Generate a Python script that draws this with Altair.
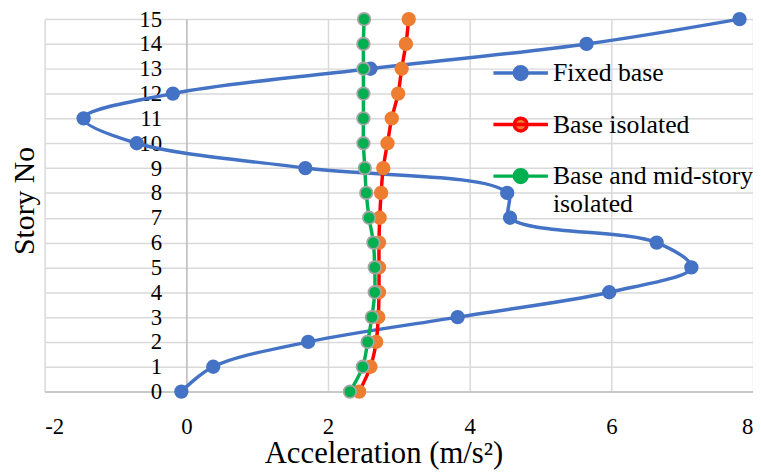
import altair as alt
import pandas as pd

stories = list(range(16))
fixed_base = [-0.07, 0.38, 1.72, 3.83, 5.97, 7.13, 6.64, 4.57, 4.53, 1.68,
              -0.70, -1.45, -0.19, 2.60, 5.65, 7.81]
base_isolated = [2.44, 2.60, 2.68, 2.71, 2.72, 2.72, 2.72, 2.73, 2.75, 2.78,
                 2.84, 2.90, 2.99, 3.04, 3.10, 3.14]
mid_isolated = [2.31, 2.49, 2.56, 2.62, 2.66, 2.66, 2.64, 2.58, 2.54, 2.52,
                2.50, 2.50, 2.50, 2.50, 2.50, 2.51]

series_names = ["Fixed base", "Base isolated", "Base and mid-story isolated"]
line_colors = ["#4472C4", "#FF0000", "#00B050"]
point_colors = ["#4472C4", "#ED7D31", "#00B050"]
x_ticks = [-2, 0, 2, 4, 6, 8]

rows = []
for name, vals in zip(series_names, [fixed_base, base_isolated, mid_isolated]):
    for s, v in zip(stories, vals):
        rows.append({"series": name, "story": s, "acc": v})
df = pd.DataFrame(rows)

FONT = "'Liberation Serif', 'Times New Roman', Tinos, 'DejaVu Serif', serif"
sym_path = ("M-2,0H2M-0.47,0A0.47,0.47 0 1,1 0.47,0"
            "A0.47,0.47 0 1,1 -0.47,0Z")

legend = alt.Legend(
    title=None, orient="none", legendX=465, legendY=39,
    symbolType=sym_path, symbolSize=756, symbolStrokeWidth=3.5,
    labelFont=FONT, labelFontSize=26, labelColor="black", labelLimit=400,
    labelOffset=17, rowPadding=23, padding=0,
    labelExpr="datum.label == 'Base and mid-story isolated' ? ['Base and mid-story', 'isolated'] : datum.label",
)

x_enc = alt.X("acc:Q", scale=alt.Scale(domain=[-2, 8], nice=False),
              axis=alt.Axis(values=x_ticks, title="Acceleration (m/s²)",
                            labelExpr="'' + datum.value",
                            tickSize=0, ticks=False, labelPadding=35,
                            labelBaseline="middle", labelFont=FONT,
                            labelFontSize=23, labelColor="black",
                            titleFont=FONT, titleFontSize=31,
                            titleFontWeight="normal", titleColor="black",
                            titleX=342, titleY=72, titleBaseline="alphabetic",
                            domainColor="#BFBFBF", domainWidth=1.5,
                            gridColor="#D9D9D9", gridWidth=1.5))
y_enc = alt.Y("story:Q", scale=alt.Scale(domain=[0, 15], nice=False),
              axis=alt.Axis(values=stories, title="Story No", offset=-143,
                            tickSize=0, ticks=False, labelPadding=25,
                            labelFont=FONT, labelFontSize=23,
                            labelColor="black", titleFont=FONT,
                            titleFontSize=30, titleFontWeight="normal",
                            titleColor="black", titleX=-163, titleY=183,
                            titleAngle=-90, titleAlign="center",
                            titleBaseline="middle",
                            domainColor="#BFBFBF", domainWidth=1.5,
                            gridColor="#D9D9D9", gridWidth=1.5))

stroke_enc = alt.Stroke("series:N", scale=alt.Scale(domain=series_names, range=line_colors),
                        legend=legend)
fill_enc = alt.Fill("series:N", scale=alt.Scale(domain=series_names, range=point_colors),
                    legend=legend)

layers = []
for name in series_names:
    sub = alt.Chart(df).transform_filter(alt.datum.series == name)
    layers.append(sub.mark_line(interpolate="catmull-rom", strokeWidth=3.5).encode(
        x=x_enc, y=y_enc, stroke=stroke_enc, order="story:Q"))
    pt_stroke = "#A5A5A5" if name == series_names[2] else point_colors[series_names.index(name)]
    layers.append(sub.mark_point(filled=True, opacity=1, size=160,
                                 stroke=pt_stroke, strokeWidth=1.8).encode(
        x=x_enc, y=y_enc, fill=fill_enc))

chart = alt.layer(*layers).properties(
    width=715, height=376,
    padding={"left": 37, "top": 9, "right": 0, "bottom": 82},
    autosize=alt.AutoSizeParams(type="none"),
).configure_view(stroke=None)

chart.save("out.html", embed_options={"renderer": "svg", "actions": False})
